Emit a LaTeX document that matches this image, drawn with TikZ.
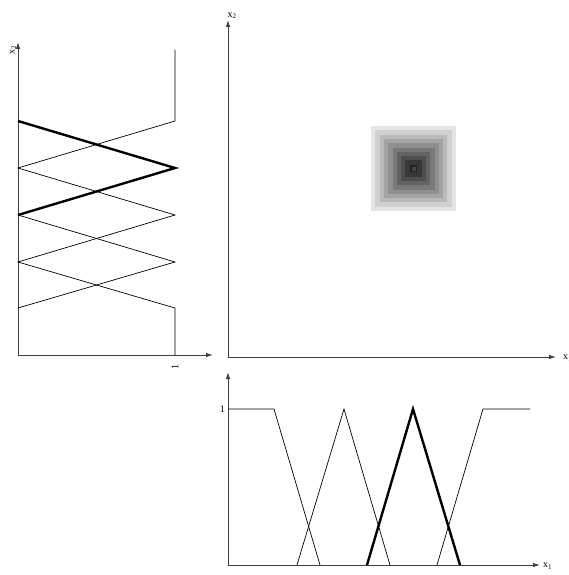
\documentclass[tikz,border=0pt]{standalone}
\usepackage{fontspec}
\setmainfont{Liberation Serif}
\usetikzlibrary{arrows.meta}
\begin{document}
\begin{tikzpicture}[x=1pt,y=-1pt,
  axis/.style={line width=0.9pt, draw=black!75, -{Latex[length=7pt,width=4.5pt]}},
  mf/.style={line width=0.7pt},
  mfbold/.style={line width=2.4pt},
  lbl/.style={font=\fontsize{10}{12}\selectfont, inner sep=1pt}]
\useasboundingbox (0,0) rectangle (568,575);

% ---------- left panel (x2 membership functions) ----------
\coordinate (LO) at (18,355);
\coordinate (LYt) at (18,42);
\coordinate (LXt) at (213,355);
\draw[axis] (LO) -- (LYt);
\draw[axis] (LO) -- (LXt);
\node[lbl, rotate=90, anchor=east] (lx2) at (13,44) {x\textsubscript{2}};
\node[lbl, rotate=90] (lone) at (175,367) {1};
\draw[mf] (175,50) -- (175,121) -- (18,168) -- (175,215) -- (18,262) -- (175,308) -- (175,355);
\draw[mf] (18,215) -- (175,262) -- (18,308);
\draw[mfbold] (18,121) -- (175,168) -- (18,215);

% ---------- main panel ----------
\coordinate (MO) at (228,357);
\coordinate (MYt) at (228,20);
\coordinate (MXt) at (556,357);
\draw[axis] (MO) -- (MYt);
\draw[axis] (MO) -- (MXt);
\node[lbl, anchor=south] (mx2) at (232,20) {x\textsubscript{2}};
\node[lbl, anchor=west] (mx1) at (562,358) {x\textsubscript{1}};
\foreach \i in {0,...,9}{
  \pgfmathsetmacro{\g}{10+8.5*\i}
  \pgfmathsetmacro{\h}{42.5-4.3*\i}
  \fill[black!\g] (413.5-\h,168.5-\h) rectangle (413.5+\h,168.5+\h);
}
\fill[black!72] (411.5,166.5) rectangle (415.5,170.5);

% ---------- bottom panel (x1 membership functions) ----------
\coordinate (BO) at (228,565);
\coordinate (BYt) at (228,372);
\coordinate (BXt) at (540,565);
\draw[axis] (BO) -- (BYt);
\draw[axis] (BO) -- (BXt);
\node[lbl, anchor=east] (bone) at (226,409) {1};
\node[lbl, anchor=west] (bx1) at (542,566) {x\textsubscript{1}};
\draw[mf] (228,409) -- (274,409) -- (320,565);
\draw[mf] (297,565) -- (344,409) -- (390,565);
\draw[mf] (437,565) -- (483,409) -- (530,409);
\draw[mfbold] (367,565) -- (413,409) -- (460,565);
\end{tikzpicture}
\end{document}
